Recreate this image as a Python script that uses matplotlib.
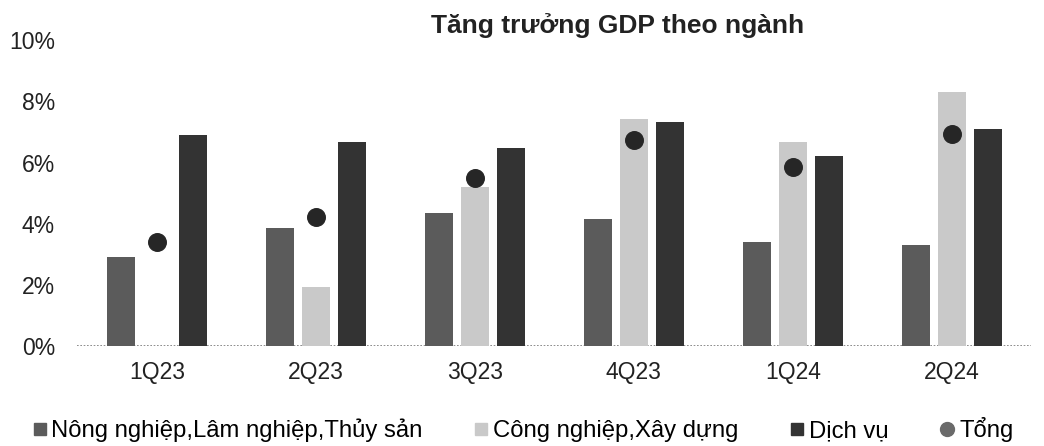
import numpy as np
import matplotlib.pyplot as plt
from matplotlib.lines import Line2D

quarters = ['1Q23', '2Q23', '3Q23', '4Q23', '1Q24', '2Q24']
nong_nghiep = [2.92, 3.85, 4.34, 4.14, 3.41, 3.30]
cong_nghiep = [-0.05, 1.94, 5.20, 7.41, 6.68, 8.31]
dich_vu = [6.90, 6.68, 6.46, 7.31, 6.22, 7.08]
tong = [3.40, 4.23, 5.51, 6.75, 5.86, 6.93]

series_names = ['Nông nghiệp,Lâm nghiệp,Thủy sản', 'Công nghiệp,Xây dựng', 'Dịch vụ', 'Tổng']
colors = ['#5b5b5b', '#c9c9c9', '#333333']
dot_color = '#262626'

plt.rcParams['font.family'] = ['Liberation Sans', 'DejaVu Sans']

fig = plt.figure(figsize=(10.44, 4.46), dpi=100)
ax = fig.add_axes([0.074, 0.224, 0.914, 0.686])

x = np.arange(len(quarters))
w = 0.176
step = 0.226
for i, vals in enumerate([nong_nghiep, cong_nghiep, dich_vu]):
    ax.bar(x + (i - 1) * step, vals, width=w, color=colors[i], zorder=2)
ax.scatter(x, tong, s=160, color=dot_color, zorder=3)

# dotted zero line along the base
ax.axhline(0, color='#7a7a7a', lw=1.2, ls=(0, (1, 1)), zorder=1)

ax.set_xlim(-0.5, len(quarters) - 0.5)
ax.set_ylim(0, 10)
ax.set_yticks(np.arange(0, 11, 2))
ax.set_yticklabels([f'{v}%' for v in range(0, 11, 2)])
ax.set_xticks(x)
ax.set_xticklabels(quarters)
ax.tick_params(axis='both', length=0, labelsize=16.5, colors='#222222')
ax.tick_params(axis='x', pad=11)
ax.tick_params(axis='y', pad=16)
for s in ax.spines.values():
    s.set_visible(False)

fig.text(0.592, 0.942, 'Tăng trưởng GDP theo ngành', ha='center', va='center',
         fontsize=19, fontweight='bold', color='#222222')

handles = [Line2D([], [], marker='s', ls='', color=c, markersize=8) for c in colors]
handles.append(Line2D([], [], marker='o', ls='', color='#6a6a6a', markersize=10))
fig.legend(handles, series_names, loc='center left', bbox_to_anchor=(0.031, 0.036),
           ncol=4, frameon=False, fontsize=17.2, handlelength=0.6, handletextpad=0.2,
           columnspacing=2.15, borderaxespad=0, borderpad=0)

fig.savefig('out.png', dpi=100)
